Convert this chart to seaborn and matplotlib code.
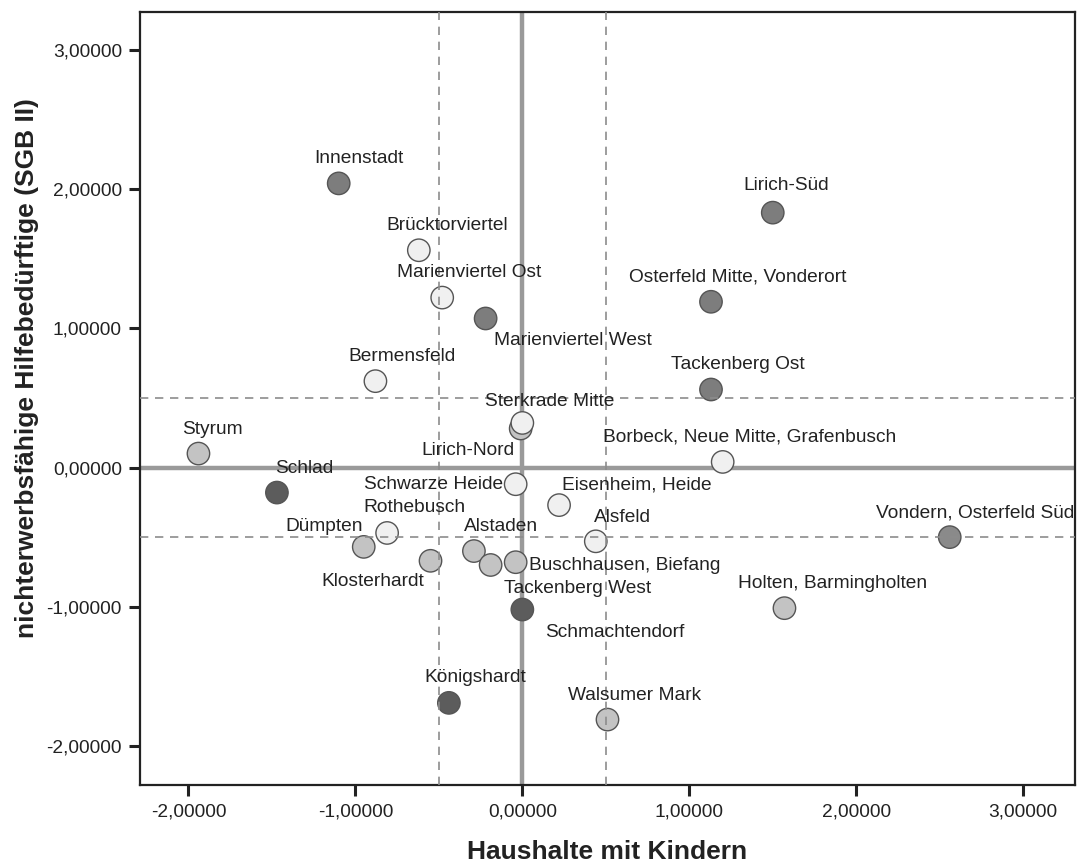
import seaborn as sns
import matplotlib.pyplot as plt
from matplotlib.ticker import FuncFormatter
import pandas as pd

# Stadtteile: Faktorwerte (x = Haushalte mit Kindern, y = nichterwerbsf. Hilfebeduerftige)
names = ['Innenstadt', 'Lirich-Süd', 'Brücktorviertel', 'Marienviertel Ost',
         'Marienviertel West', 'Osterfeld Mitte, Vonderort', 'Bermensfeld',
         'Tackenberg Ost', 'Lirich-Nord', 'Sterkrade Mitte', 'Styrum',
         'Borbeck, Neue Mitte, Grafenbusch', 'Schlad', 'Schwarze Heide',
         'Eisenheim, Heide', 'Rothebusch', 'Alsfeld', 'Vondern, Osterfeld Süd',
         'Dümpten', 'Klosterhardt', 'Alstaden', 'Tackenberg West',
         'Buschhausen, Biefang', 'Schmachtendorf', 'Holten, Barmingholten',
         'Königshardt', 'Walsumer Mark']
x_vals = [-1.10, 1.50, -0.62, -0.48, -0.22, 1.13, -0.88, 1.13, -0.01, 0.00, -1.94,
          1.20, -1.47, -0.04, 0.22, -0.81, 0.44, 2.56, -0.95, -0.55, -0.29, -0.19,
          -0.04, 0.00, 1.57, -0.44, 0.51]
y_vals = [2.04, 1.83, 1.56, 1.22, 1.07, 1.19, 0.62, 0.56, 0.28, 0.32, 0.10,
          0.04, -0.18, -0.12, -0.27, -0.47, -0.53, -0.50, -0.57, -0.67, -0.60, -0.70,
          -0.68, -1.02, -1.01, -1.69, -1.81]
groups = ['c', 'c', 'a', 'a', 'c', 'c', 'a', 'c', 'b', 'a', 'b',
          'a', 'd', 'a', 'a', 'a', 'a', 'c2', 'b', 'b', 'b', 'b',
          'b', 'd', 'b', 'd', 'b']

palette = {'a': '#f0f0f0', 'b': '#c3c3c3', 'c': '#7d7d7d', 'c2': '#8a8a8a', 'd': '#5c5c5c'}

# label offsets in pixels (dx, dy) relative to the point
offsets = {'Innenstadt': (20, 25), 'Lirich-Süd': (13, 27), 'Brücktorviertel': (28, 25),
           'Marienviertel Ost': (27, 25), 'Marienviertel West': (87, -22),
           'Osterfeld Mitte, Vonderort': (27, 25), 'Bermensfeld': (27, 25),
           'Tackenberg Ost': (27, 25), 'Lirich-Nord': (-53, -22),
           'Sterkrade Mitte': (27, 21), 'Styrum': (14, 24),
           'Borbeck, Neue Mitte, Grafenbusch': (27, 25), 'Schlad': (27, 24),
           'Schwarze Heide': (-82, 0), 'Eisenheim, Heide': (78, 20),
           'Rothebusch': (27, 25), 'Alsfeld': (27, 24), 'Vondern, Osterfeld Süd': (25, 24),
           'Dümpten': (-40, 20), 'Klosterhardt': (-58, -21), 'Alstaden': (27, 25),
           'Tackenberg West': (87, -24), 'Buschhausen, Biefang': (109, -3),
           'Schmachtendorf': (92, -23), 'Holten, Barmingholten': (48, 25),
           'Königshardt': (26, 25), 'Walsumer Mark': (27, 24)}

df = pd.DataFrame({'name': names, 'x': x_vals, 'y': y_vals, 'grp': groups})

sns.set_style('white')
plt.rcParams['font.family'] = ['Liberation Sans', 'DejaVu Sans']

fig = plt.figure(figsize=(10.88, 8.64), dpi=100)
ax = fig.add_axes([0.1287, 0.0914, 0.8593, 0.8946])

# solid reference lines at 0
ax.axhline(0, color='#9a9a9a', lw=3.2, zorder=1)
ax.axvline(0, color='#9a9a9a', lw=3.2, zorder=1)

sns.scatterplot(data=df, x='x', y='y', hue='grp', palette=palette, s=260,
                edgecolor='#555555', linewidth=1.0, legend=False, ax=ax, zorder=3)

# dashed lines at +-0.5
for v in (-0.5, 0.5):
    ax.axhline(v, color='#8c8c8c', lw=1.2, ls=(0, (5, 4)), zorder=4)
    ax.axvline(v, color='#8c8c8c', lw=1.2, ls=(0, (5, 4)), zorder=4)

for n, xv, yv in zip(names, x_vals, y_vals):
    dx, dy = offsets[n]
    ax.annotate(n, (xv, yv), xytext=(dx, dy), textcoords='offset pixels',
                ha='center', va='center', fontsize=13.8, color='#222222', zorder=5)

ax.set_xlim(-2.29, 3.31)
ax.set_ylim(-2.28, 3.27)
ax.set_xticks([-2, -1, 0, 1, 2, 3])
ax.set_yticks([-2, -1, 0, 1, 2, 3])
fmt = FuncFormatter(lambda v, p: f'{v:.5f}'.replace('.', ','))
ax.xaxis.set_major_formatter(fmt)
ax.yaxis.set_major_formatter(fmt)
ax.tick_params(axis='both', bottom=True, left=True, direction='out', length=8, width=2.2,
               color='#222222', labelsize=13.8, labelcolor='#222222', pad=5)
for sp in ax.spines.values():
    sp.set_color('#222222')
    sp.set_linewidth(1.6)

ax.set_xlabel('Haushalte mit Kindern', fontsize=19, fontweight='bold', color='#222222', labelpad=14)
ax.set_ylabel('nichterwerbsfähige Hilfebedürftige (SGB II)', fontsize=19, fontweight='bold',
              color='#222222')
ax.yaxis.set_label_coords(-0.108, 0.54)

plt.savefig('out.png', dpi=100)
